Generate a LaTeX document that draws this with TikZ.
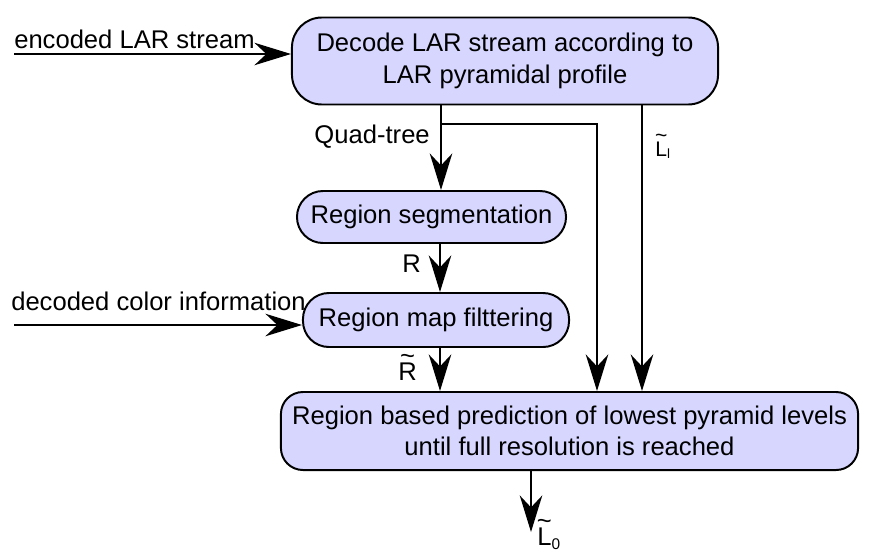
\documentclass[tikz,border=0pt]{standalone}
\usepackage{fontspec}
\setmainfont{Liberation Sans}
\usepackage{tikz}
\usetikzlibrary{arrows.meta, calc, positioning}

\definecolor{boxfill}{RGB}{214,214,255}

% dấu ngã đặt cao phía trên chữ
\newcommand{\tildeover}[1]{\leavevmode\setbox0\hbox{#1}\rlap{\hbox to \wd0{\hss\raisebox{0.62em}{\textasciitilde}\hss}}\box0}

\tikzset{
    procbox/.style={draw, line width=1.4pt, fill=boxfill, align=center, inner sep=0pt,
        font=\fontsize{18.2}{22.5}\selectfont},
    flow/.style={line width=1.4pt, -{Stealth[length=26pt, width=16pt, inset=8.5pt]}},
    lbl/.style={font=\fontsize{18.2}{22}\selectfont, inner sep=0pt}
}

\begin{document}
\begin{tikzpicture}[x=0.025cm, y=-0.025cm]
        \useasboundingbox (0,0) rectangle (872,552);

        % Các khối xử lý
        \node[procbox, minimum width=10.65cm, minimum height=2.175cm, rounded corners=0.75cm] (decode) at (505,61) {Decode LAR stream according to\\LAR pyramidal profile};
        \node[procbox, minimum width=6.725cm, minimum height=1.3cm, rounded corners=0.65cm] (seg) at (431.5,217) {Region segmentation};
        \node[procbox, minimum width=6.65cm, minimum height=1.35cm, rounded corners=0.65cm] (filt) at (436,320) {Region map filttering};
        \node[procbox, minimum width=14.425cm, minimum height=1.95cm, rounded corners=0.55cm] (pred) at (569.5,431) {Region based prediction of lowest pyramid levels\\until full resolution is reached};

        % Các điểm phụ
        \coordinate (encin) at (14,54);
        \coordinate (colin) at (14,325);
        \coordinate (qt) at (441,124);
        \coordinate (qtc) at (597,124);
        \coordinate (lx) at (642,0);
        \coordinate (rx) at (440,0);
        \coordinate (out) at (531,532);

        % Đầu vào
        \draw[flow] (encin) -- (encin -| decode.west);
        \node[lbl, anchor=base west] (enclbl) at (14,48) {encoded LAR stream};
        \draw[flow] (colin) -- (colin -| filt.west);
        \node[lbl, anchor=base west] (collbl) at (11,310) {decoded color information};

        % Các mũi tên giữa các khối
        \draw[flow] (decode.south -| qt) -- (seg.north -| qt);
        \draw[flow] (qt) -- (qtc) -- (qtc |- pred.north);
        \draw[flow] (decode.south -| lx) -- (pred.north -| lx);
        \draw[flow] (seg.south -| rx) -- (filt.north -| rx);
        \draw[flow] (filt.south -| rx) -- (pred.north -| rx);
        \draw[flow] (pred.south -| out) -- (out);

        % Nhãn
        \node[lbl, anchor=base east] (qtlbl) at (430,143) {Quad-tree};
        \node[lbl, anchor=base west] (rlbl) at (402,272) {R};
        \node[lbl, anchor=base west] (rtlbl) at (398,380) {\tildeover{R}};
        \node[lbl, anchor=base west, font=\fontsize{15}{16}\selectfont] (llbl) at (655,156) {\tildeover{L}\raisebox{-0.25ex}{\fontsize{9.5}{10}\selectfont l}};
        \node[lbl, anchor=base west] (l0lbl) at (537,545) {\tildeover{L}\raisebox{-0.3ex}{\fontsize{11}{12}\selectfont 0}};
    \end{tikzpicture}
\end{document}
